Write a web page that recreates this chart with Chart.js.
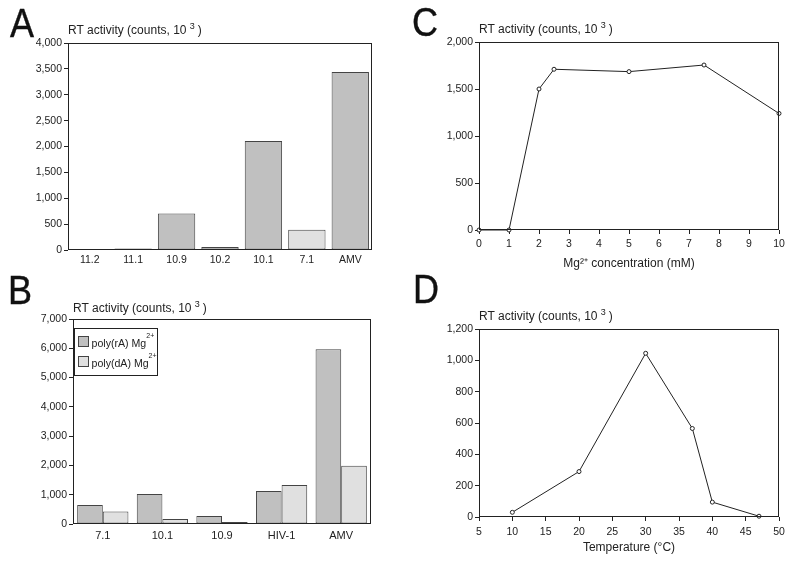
<!DOCTYPE html>
<html>
<head>
<meta charset="utf-8">
<script src="https://cdn.jsdelivr.net/npm/chart.js@4"></script>
<style>
body{margin:0;background:#fff;}
#wrap{position:relative;width:800px;height:564px;font-family:"Liberation Sans",Arial,sans-serif;overflow:hidden;}
.panel{position:absolute;width:400px;height:282px;}
.letter{position:absolute;font-size:40px;line-height:40px;color:#111;transform:scaleX(0.9);transform-origin:0 0;-webkit-text-stroke:0.4px #111;}
</style>
</head>
<body>
<div id="wrap">
  <div class="panel" style="left:0;top:0"><canvas id="chartA"></canvas></div>
  <div class="panel" style="left:0;top:282px"><canvas id="chartB"></canvas></div>
  <div class="panel" style="left:400px;top:0"><canvas id="chartC"></canvas></div>
  <div class="panel" style="left:400px;top:282px"><canvas id="chartD"></canvas></div>
  <div class="letter" style="left:10px;top:3px">A</div>
  <div class="letter" style="left:8px;top:270px">B</div>
  <div class="letter" style="left:412px;top:2px">C</div>
  <div class="letter" style="left:413px;top:269px">D</div>
</div>
<script>
// panel A: RT activity per sample
var samplesA = ['11.2', '11.1', '10.9', '10.2', '10.1', '7.1', 'AMV'];
var activityA = [20, 30, 705, 60, 2105, 390, 3440];

// panel B: template comparison
var samplesB = ['7.1', '10.1', '10.9', 'HIV-1', 'AMV'];
var polyRA = [650, 1025, 270, 1125, 5965];
var polyDA = [430, 170, 65, 1330, 1990];

// panel C: Mg2+ dependence
var mgConc = [0, 1, 2, 2.5, 5, 7.5, 10];
var activityC = [0, 0, 1500, 1710, 1685, 1755, 1240];

// panel D: temperature dependence
var temperature = [10, 20, 30, 37, 40, 47];
var activityD = [30, 290, 1045, 565, 95, 5];

var captionText = 'RT activity (counts, 10 ';
var captionSup = '3';

var FONT = '"Liberation Sans", Arial, sans-serif';
var INK = '#222';
var EDGE = '#444';
var DARK = '#c0c0c0';
var LIGHT = '#e0e0e0';

Chart.defaults.font.family = FONT;
Chart.defaults.color = INK;
Chart.defaults.animation = false;

var framePlugin = {
  id: 'frame',
  afterDraw: function(chart) {
    var a = chart.chartArea, ctx = chart.ctx;
    ctx.save();
    ctx.strokeStyle = INK;
    ctx.lineWidth = 1;
    ctx.strokeRect(Math.round(a.left) + 0.5, Math.round(a.top) + 0.5,
      Math.round(a.right - a.left) - 1, Math.round(a.bottom - a.top) - 1);
    ctx.restore();
  }
};

var captionPlugin = {
  id: 'caption',
  afterDraw: function(chart, args, opts) {
    var a = chart.chartArea, ctx = chart.ctx;
    var x = a.left, y = a.top - opts.gap;
    ctx.save();
    ctx.fillStyle = INK;
    ctx.textBaseline = 'alphabetic';
    ctx.font = '12px ' + FONT;
    ctx.fillText(captionText, x, y);
    x += ctx.measureText(captionText).width;
    ctx.font = '9px ' + FONT;
    ctx.fillText(captionSup, x, y - 5);
    x += ctx.measureText(captionSup).width + 3;
    ctx.font = '12px ' + FONT;
    ctx.fillText(')', x, y);
    ctx.restore();
  }
};

// boxed legend drawn inside the plot (panel B)
var boxLegendPlugin = {
  id: 'boxLegend',
  afterDraw: function(chart, args, opts) {
    if (!opts.show) return;
    var a = chart.chartArea, ctx = chart.ctx;
    var bx = Math.round(a.left) + 1.5, by = Math.round(a.top) + 9.5;
    ctx.save();
    ctx.fillStyle = '#fff';
    ctx.strokeStyle = INK;
    ctx.lineWidth = 1;
    ctx.fillRect(bx, by, 83, 47);
    ctx.strokeRect(bx, by, 83, 47);
    chart.data.datasets.forEach(function(ds, i) {
      var sy = by + 8 + i * 20;
      ctx.fillStyle = ds.backgroundColor;
      ctx.strokeStyle = EDGE;
      ctx.fillRect(bx + 4, sy, 10, 10);
      ctx.strokeRect(bx + 4, sy, 10, 10);
      var m = ds.label.match(/^(.*?)([²⁺]+)$/);
      var base = m ? m[1] : ds.label;
      var sup = m ? m[2].replace('²', '2').replace('⁺', '+') : '';
      ctx.fillStyle = INK;
      ctx.font = '10.6px ' + FONT;
      ctx.textBaseline = 'alphabetic';
      ctx.fillText(base, bx + 17, sy + 10);
      var w = ctx.measureText(base).width;
      ctx.font = '7px ' + FONT;
      ctx.fillText(sup, bx + 17 + w, sy + 1);
    });
    ctx.restore();
  }
};

Chart.register(framePlugin, captionPlugin);

function yAxis(area, max, step) {
  return {
    min: 0, max: max,
    border: { display: false },
    grid: { drawOnChartArea: false, drawTicks: true, tickLength: 4, color: INK },
    ticks: { stepSize: step, padding: 2, font: { size: 10.5 }, color: INK },
    afterFit: function(s) { s.width = area.left; }
  };
}

function layoutFor(area) {
  return { padding: { left: 0, top: area.top, right: 400 - area.right, bottom: 0 } };
}

var baseOpts = {
  responsive: true,
  maintainAspectRatio: false,
  locale: 'en-US',
  plugins: { legend: { display: false }, tooltip: { enabled: false } }
};

// ---- A ----
var areaA = { left: 68, top: 43, right: 372, bottom: 250 };
new Chart(document.getElementById('chartA'), {
  type: 'bar',
  data: {
    labels: samplesA,
    datasets: [{
      data: activityA,
      backgroundColor: function(c) { return samplesA[c.index] === '7.1' ? LIGHT : DARK; },
      borderColor: EDGE,
      borderWidth: 1,
      borderSkipped: false,
      barPercentage: 0.86,
      categoryPercentage: 1
    }]
  },
  options: Object.assign({}, baseOpts, {
    layout: layoutFor(areaA),
    plugins: Object.assign({}, baseOpts.plugins, { caption: { gap: 9 } }),
    scales: {
      x: {
        border: { display: false },
        grid: { display: false, drawTicks: false, tickLength: 0 },
        ticks: { padding: 4, font: { size: 10.5 }, color: INK },
        afterFit: function(s) { s.height = 282 - areaA.bottom; }
      },
      y: yAxis(areaA, 4000, 500)
    }
  })
});

// ---- B ----
var areaB = { left: 73, top: 37, right: 371, bottom: 242 };
new Chart(document.getElementById('chartB'), {
  type: 'bar',
  plugins: [boxLegendPlugin],
  data: {
    labels: samplesB,
    datasets: [
      { label: 'poly(rA) Mg²⁺', data: polyRA, backgroundColor: DARK, borderColor: EDGE,
        borderWidth: 1, borderSkipped: false, barPercentage: 1, categoryPercentage: 0.86 },
      { label: 'poly(dA) Mg²⁺', data: polyDA, backgroundColor: LIGHT, borderColor: EDGE,
        borderWidth: 1, borderSkipped: false, barPercentage: 1, categoryPercentage: 0.86 }
    ]
  },
  options: Object.assign({}, baseOpts, {
    layout: layoutFor(areaB),
    plugins: Object.assign({}, baseOpts.plugins, { caption: { gap: 7 }, boxLegend: { show: true } }),
    scales: {
      x: {
        border: { display: false },
        grid: { display: false, drawTicks: false, tickLength: 0 },
        ticks: { padding: 5, font: { size: 11 }, color: INK },
        afterFit: function(s) { s.height = 282 - areaB.bottom; }
      },
      y: yAxis(areaB, 7000, 1000)
    }
  })
});

function lineChart(id, area, xs, ys, xMin, xMax, xStep, yMax, yStep, xTitle, titlePad, tickPad) {
  return new Chart(document.getElementById(id), {
    type: 'line',
    data: {
      datasets: [{
        data: xs.map(function(x, i) { return { x: x, y: ys[i] }; }),
        borderColor: INK,
        borderWidth: 1,
        pointRadius: 2,
        pointBorderWidth: 1,
        pointBackgroundColor: '#fff',
        pointBorderColor: INK,
        tension: 0,
        clip: false
      }]
    },
    options: Object.assign({}, baseOpts, {
      layout: layoutFor(area),
      plugins: Object.assign({}, baseOpts.plugins, { caption: { gap: 9 } }),
      scales: {
        x: {
          type: 'linear', min: xMin, max: xMax,
          border: { display: false },
          grid: { drawOnChartArea: false, drawTicks: true, tickLength: 4, color: INK },
          ticks: { stepSize: xStep, padding: tickPad, font: { size: 10.5 }, color: INK },
          title: { display: true, text: xTitle, font: { size: 12 }, color: INK,
                   padding: { top: 0, bottom: titlePad } },
          afterFit: function(s) { s.height = 282 - area.bottom; }
        },
        y: yAxis(area, yMax, yStep)
      }
    })
  });
}

lineChart('chartC', { left: 79, top: 42, right: 379, bottom: 230 },
  mgConc, activityC, 0, 10, 1, 2000, 500, 'Mg²⁺ concentration (mM)', 11, 4);

lineChart('chartD', { left: 79, top: 47, right: 379, bottom: 235 },
  temperature, activityD, 5, 50, 5, 1200, 200, 'Temperature (°C)', 9, 5);
</script>
</body>
</html>
